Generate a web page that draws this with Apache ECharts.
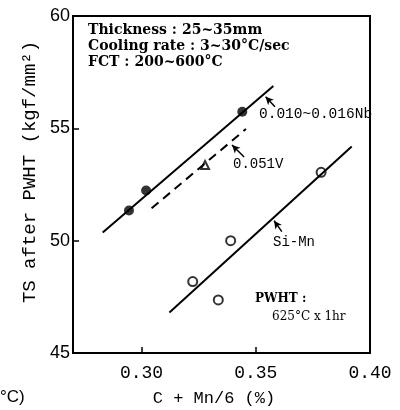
<!DOCTYPE html>
<html lang="en">
<head>
<meta charset="utf-8">
<script src="https://cdn.jsdelivr.net/npm/echarts@6/dist/echarts.min.js"></script>
<style>
  html, body { margin: 0; padding: 0; background: #fff; }
  #chart { width: 400px; height: 410px; }
</style>
</head>
<body>
<div id="chart"></div>
<script type="text/javascript">
    // measured points, [C+Mn/6, TS]
    var nbPoints = [[0.2945, 51.34], [0.3020, 52.23], [0.3441, 55.74]];
    var vPoints = [[0.3278, 53.37]];
    var siMnPoints = [[0.3224, 48.18], [0.3336, 47.36], [0.3390, 50.00], [0.3786, 53.04]];

    // fitted lines (end points)
    var nbLine = [[0.2830, 50.36], [0.3577, 56.88]];
    var vLine = [[0.3044, 51.44], [0.3457, 54.97]];
    var siMnLine = [[0.3122, 46.80], [0.3920, 54.19]];

    // label arrows: [tail, tip]
    var arrows = [
        [[0.3584, 55.96], [0.3543, 56.41]],
        [[0.3449, 53.72], [0.3396, 54.26]],
        [[0.3614, 50.40], [0.3580, 50.89]]
    ];

    var xTicks = [0.30, 0.35, 0.40];
    var xLabels = ['0.30', '0.35', '0.40'];

    var myChart = echarts.init(document.getElementById('chart'));

    var mono = 'Liberation Mono';
    var boxFont = 'bold 14px "DejaVu Serif"';

    var option = {
        backgroundColor: '#fff',
        animation: false,
        grid: {
            left: 73, right: 30, top: 16, bottom: 57,
            show: true, borderColor: '#000', borderWidth: 2
        },
        xAxis: {
            type: 'value',
            min: 0.27,
            max: 0.40,
            splitLine: {show: false},
            axisLine: {lineStyle: {color: '#000', width: 2}},
            axisTick: {inside: true, length: 6, customValues: xTicks, lineStyle: {color: '#000', width: 1.5}},
            axisLabel: {
                customValues: xTicks,
                color: '#000', fontFamily: mono, fontSize: 18, margin: 11,
                formatter: function (v) {
                    var i = xTicks.indexOf(Math.round(v * 100) / 100);
                    return i >= 0 ? xLabels[i] : '';
                }
            }
        },
        yAxis: {
            type: 'value',
            min: 45,
            max: 60,
            interval: 5,
            splitLine: {show: false},
            axisLine: {show: true, lineStyle: {color: '#000', width: 2}},
            axisTick: {show: true, inside: true, length: 6, lineStyle: {color: '#000', width: 1.5}},
            axisLabel: {color: '#000', fontFamily: 'Liberation Sans', fontSize: 18, margin: 3}
        },
        series: [
            {
                type: 'line', data: nbLine, symbol: 'none',
                lineStyle: {color: '#000', width: 2}
            },
            {
                type: 'line', data: vLine, symbol: 'none',
                lineStyle: {color: '#000', width: 2, type: [9, 6]}
            },
            {
                type: 'line', data: siMnLine, symbol: 'none',
                lineStyle: {color: '#000', width: 2},
                markLine: {
                    silent: true,
                    symbol: ['none', 'arrow'],
                    symbolSize: [6, 8],
                    label: {show: false},
                    lineStyle: {color: '#000', width: 1.5, type: 'solid'},
                    data: arrows.map(function (a) {
                        return [{coord: a[0]}, {coord: a[1]}];
                    })
                }
            },
            {
                type: 'scatter', data: nbPoints, symbol: 'circle', symbolSize: 10,
                itemStyle: {color: '#000'}
            },
            {
                type: 'scatter', data: vPoints, symbol: 'triangle', symbolSize: 8,
                itemStyle: {color: '#fff', borderColor: '#000', borderWidth: 2}
            },
            {
                type: 'scatter', data: siMnPoints, symbol: 'circle', symbolSize: 9,
                itemStyle: {color: '#fff', borderColor: '#000', borderWidth: 2}
            }
        ],
        graphic: [
            {type: 'text', left: 88, top: 23, style: {text: 'Thickness : 25~35mm', font: boxFont, fill: '#000'}},
            {type: 'text', left: 88, top: 39, style: {text: 'Cooling rate : 3~30°C/sec', font: boxFont, fill: '#000'}},
            {type: 'text', left: 88, top: 55, style: {text: 'FCT : 200~600°C', font: boxFont, fill: '#000'}},
            {type: 'text', left: 259, top: 107, style: {text: '0.010~0.016Nb', font: '14.5px "Liberation Mono"', fill: '#000'}},
            {type: 'text', left: 233, top: 157, style: {text: '0.051V', font: '14px "Liberation Mono"', fill: '#000'}},
            {type: 'text', left: 273, top: 235, style: {text: 'Si-Mn', font: '14px "Liberation Mono"', fill: '#000'}},
            {type: 'text', left: 255, top: 293, style: {text: 'PWHT :', font: 'bold 12px "DejaVu Serif"', fill: '#000'}},
            {type: 'text', left: 272, top: 311, style: {text: '625°C x 1hr', font: '12px "DejaVu Serif"', fill: '#000'}},
            {
                type: 'text', x: 30, y: 172, rotation: Math.PI / 2,
                style: {text: 'TS after PWHT (kgf/mm²)', font: '19px "Liberation Mono"', fill: '#000', align: 'center', verticalAlign: 'middle'}
            },
            {type: 'text', x: 214, y: 398, style: {text: 'C + Mn/6 (%)', font: '17px "Liberation Mono"', fill: '#000', align: 'center', verticalAlign: 'middle'}},
            {type: 'text', x: 0, y: 397, style: {text: '°C)', font: '17px "Liberation Sans"', fill: '#000', verticalAlign: 'middle'}}
        ]
    };

    myChart.setOption(option);
</script>
</body>
</html>
